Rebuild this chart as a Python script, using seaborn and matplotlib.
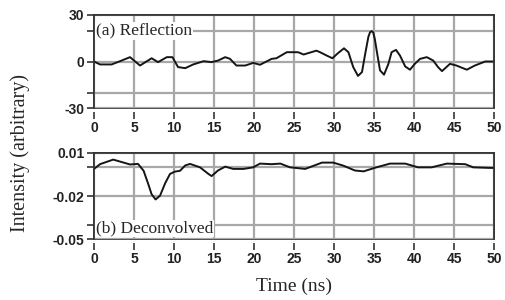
import matplotlib
matplotlib.use("Agg")
import matplotlib.pyplot as plt
import numpy as np
import seaborn as sns
from matplotlib.ticker import FixedLocator

# (a) reflection trace
t_refl = [0, 0.75, 2.2, 3.25, 4.5, 5.75, 7.2, 8.0, 9.1, 9.8, 10.5, 11.4, 12.4, 13.7,
          14.7, 15.5, 16.4, 17.0, 17.8, 18.9, 19.9, 20.75, 21.4, 22.2, 22.8, 24.1,
          25.5, 26.2, 27.8, 28.25, 29.1, 29.8, 30.5, 31.25, 31.8, 32.4, 33.0, 33.5,
          33.9, 34.3, 34.5, 34.7, 34.9, 35.1, 35.4, 35.75, 36.25, 36.8, 37.2, 37.75,
          38.25, 38.9, 39.5, 40.1, 40.75, 41.6, 42.4, 43.0, 43.5, 44.5, 45.3, 46.6,
          47.6, 48.9, 50.0]
v_refl = [0, -1.9, -1.9, 0.2, 2.8, -2.6, 2.1, -0.4, 2.8, 2.8, -3.6, -4.3, -1.9, 0.2,
          -0.4, 0.6, 2.8, 1.7, -2.6, -2.6, -0.9, -2.1, -0.4, 1.7, 2.1, 6.0,
          6.0, 4.5, 7.0, 6.0, 3.8, 2.1, 5.4, 8.5, 6.0, -3.6, -9.3, -6.8,
          5.0, 16.0, 18.8, 19.6, 18.8, 14.5, 5.0, -5.7, -8.5, -1.5, 6.0, 7.5,
          3.8, -3.2, -5.3, -1.5, 1.7, 2.8, 0.6, -3.6, -6.2, -1.5, -2.6, -5.3,
          -2.6, 0.0, 0.0]

# (b) deconvolved trace
t_dec = [0, 0.75, 2.4, 3.7, 4.5, 5.5, 6.2, 6.8, 7.2, 7.7, 8.25, 8.9, 9.5, 10.1,
         10.75, 11.4, 12.0, 13.25, 14.3, 14.7, 15.5, 16.4, 17.4, 18.7, 19.9, 20.75,
         22.2, 23.3, 24.5, 26.4, 28.5, 29.9, 31.2, 32.6, 33.7, 35.3, 37.0, 38.9,
         40.5, 42.2, 44.1, 46.4, 47.4, 49.5, 50.0]
v_dec = [-0.0011, 0.0022, 0.0054, 0.0033, 0.0020, 0.0024, -0.0024, -0.0120, -0.0188,
         -0.0224, -0.0198, -0.0110, -0.0046, -0.0030, -0.0024, 0.0013, 0.0024, 0.0,
         -0.0046, -0.0061, -0.0022, 0.0005, -0.0011, -0.0011, 0.0, 0.0026,
         0.0022, 0.0026, 0.0, -0.0011, 0.0033, 0.0033, 0.0011, -0.0022, -0.0028, 0.0,
         0.0026, 0.0026, 0.0, 0.0, 0.0026, 0.0022, 0.0, -0.0004, -0.0004]

x_ticks = [0, 5, 10, 15, 20, 25, 30, 35, 40, 45, 50]

sns.set_style("white")
plt.rcParams['font.family'] = ['Liberation Sans', 'DejaVu Sans']
plt.rcParams['font.weight'] = 'bold'

fig = plt.figure(figsize=(5.06, 3.00), dpi=100)
ax1 = fig.add_axes([0.1858, 0.64, 0.7905, 0.31])
ax2 = fig.add_axes([0.1858, 0.2033, 0.7905, 0.2867])

panels = [
    (ax1, t_refl, v_refl, (-30, 30), [-30, 0, 30], [-20, 20], ['-30', '0', '30'], '(a) Reflection', 0.83),
    (ax2, t_dec, v_dec, (-0.05, 0.01), [-0.05, -0.02, 0.01], [-0.04, 0.0], ['-0.05', '-0.02', '0.01'], '(b) Deconvolved', 0.12),
]

for ax, t, v, ylim, yt, ymin, ylab, label, ty in panels:
    sns.lineplot(x=t, y=v, ax=ax, color='#151515', linewidth=1.4)
    ax.lines[-1].set_solid_joinstyle('round')
    ax.set_xlim(0, 50)
    ax.set_ylim(*ylim)
    ax.set_xticks(x_ticks)
    ax.set_xticklabels([str(x) for x in x_ticks])
    ax.set_yticks(yt)
    ax.set_yticklabels(ylab)
    ax.yaxis.set_minor_locator(FixedLocator(ymin))
    ax.grid(True, which='both', color='#a8a8a8', linewidth=1.6)
    ax.set_axisbelow(True)
    ax.tick_params(axis='both', which='both', direction='out', length=5, width=1.2,
                   color='#333333', labelsize=10, labelcolor='#222222',
                   bottom=True, left=True)
    ax.tick_params(axis='x', pad=1, length=5)
    ax.tick_params(axis='y', pad=2)
    ax.spines['bottom'].set_position(('outward', 3))
    ax.spines['bottom'].set_color('none')
    for s in ['top', 'left', 'right']:
        ax.spines[s].set_color('#333333')
        ax.spines[s].set_linewidth(1.2)
    ax.patch.set_edgecolor('#333333')
    ax.patch.set_linewidth(1.2)
    ax.set_xlabel('')
    ax.set_ylabel('')
    ax.text(0.005, ty, label, transform=ax.transAxes,
            family='Liberation Serif', fontweight='normal',
            fontsize=12.5, va='center', ha='left',
            bbox=dict(facecolor='white', edgecolor='none', pad=0.5))

fig.text(0.04, 0.49, 'Intensity (arbitrary)', rotation=90, family='Liberation Serif',
         fontweight='normal', fontsize=14.5, ha='center', va='center')
fig.text(0.5810, 0.045, 'Time (ns)', family='Liberation Serif', fontweight='normal',
         fontsize=14, ha='center', va='center')

fig.savefig('out.png', dpi=100)
